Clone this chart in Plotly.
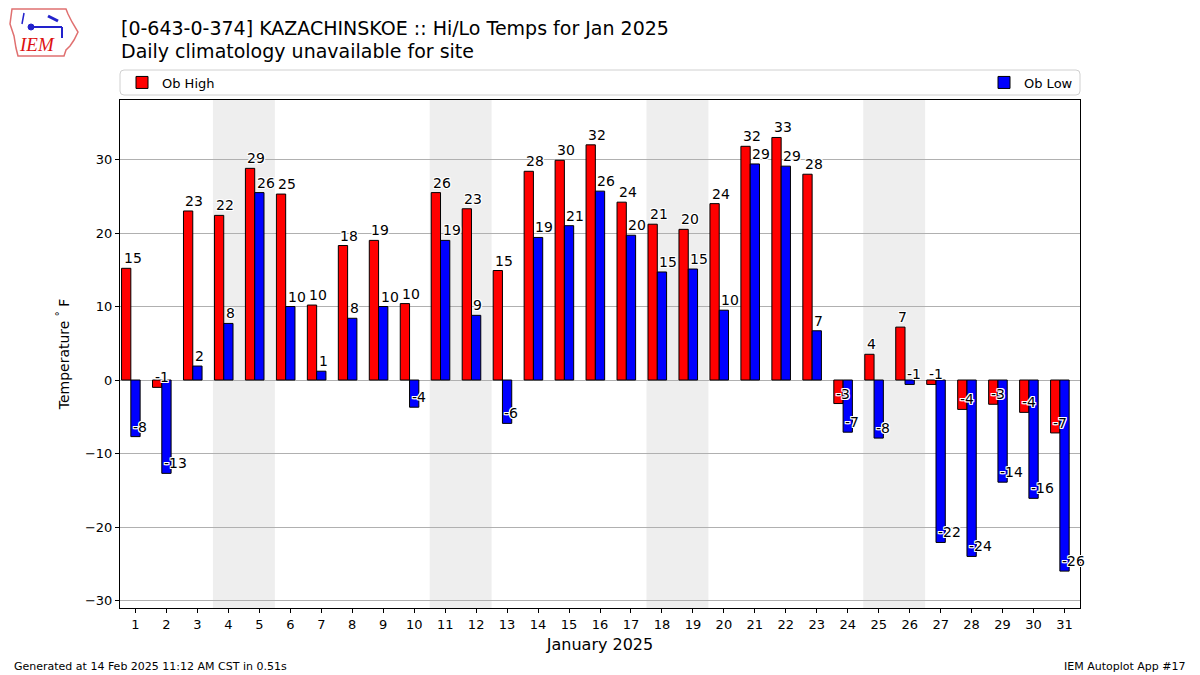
import plotly.graph_objects as go

# ---------------- data ----------------
days = list(range(1, 32))
ob_high = [15.2, -1.0, 23.0, 22.4, 28.8, 25.3, 10.2, 18.3, 19.0, 10.4,
           25.5, 23.3, 14.9, 28.4, 29.9, 32.0, 24.2, 21.2, 20.5, 24.0,
           31.8, 33.0, 28.0, -3.2, 3.5, 7.2, -0.6, -4.0, -3.3, -4.4, -7.2]
ob_low = [-7.7, -12.7, 1.9, 7.7, 25.5, 10.0, 1.2, 8.4, 10.0, -3.7,
          19.0, 8.8, -5.9, 19.4, 21.0, 25.7, 19.7, 14.7, 15.1, 9.5,
          29.4, 29.1, 6.7, -7.1, -7.9, -0.6, -22.1, -24.0, -13.9, -16.1, -26.0]
weekend_starts = [4, 11, 18, 25]   # Saturday of each weekend
y_ticks = [-30, -20, -10, 0, 10, 20, 30]

title_line1 = "[0-643-0-374] KAZACHINSKOE :: Hi/Lo Temps for Jan 2025"
title_line2 = "Daily climatology unavailable for site"
footer_left = "Generated at 14 Feb 2025 11:12 AM CST in 0.51s"
footer_right = "IEM Autoplot App #17"

FONT = "DejaVu Sans"
W, H = 1200, 675
L, R, T, B = 120, 1080, 100, 608


def px(x):
    return (x - L) / (R - L)


def py(y):
    return (B - y) / (B - T)


fig = go.Figure()
fig.add_trace(go.Bar(x=days, y=ob_high, name="Ob High", offset=-0.45, width=0.3,
                     marker=dict(color="#ff0000", line=dict(color="black", width=1)),
                     legend="legend"))
fig.add_trace(go.Bar(x=days, y=ob_low, name="Ob Low", offset=-0.15, width=0.3,
                     marker=dict(color="#0000ff", line=dict(color="black", width=1)),
                     legend="legend2"))

shapes = []
for d in weekend_starts:
    shapes.append(dict(type="rect", xref="x", yref="paper", x0=d - 0.5, x1=d + 1.5,
                       y0=0, y1=1, fillcolor="#eeeeee", line=dict(width=0), layer="below"))

# rounded legend frame
x0, x1, y0, y1 = px(120), px(1080), py(95), py(70)
rx, ry = 4 / (R - L), 4 / (B - T)
path = (f"M{x0+rx},{y0} L{x1-rx},{y0} Q{x1},{y0} {x1},{y0+ry} L{x1},{y1-ry} "
        f"Q{x1},{y1} {x1-rx},{y1} L{x0+rx},{y1} Q{x0},{y1} {x0},{y1-ry} "
        f"L{x0},{y0+ry} Q{x0},{y0} {x0+rx},{y0} Z")
shapes.append(dict(type="path", xref="paper", yref="paper", path=path,
                   line=dict(color="#d0d0d0", width=1), fillcolor="rgba(255,255,255,0.8)"))

# simple IEM logo outline (Iowa shape)
logo_pts = [(12, 9), (66, 9), (68, 14), (72, 22), (78, 32), (74, 40), (70, 46),
            (66, 50), (64, 56), (18, 56), (16, 48), (14, 36), (10, 24), (12, 9)]
lp = "M" + " L".join(f"{px(a)},{py(b)}" for a, b in logo_pts) + " Z"
shapes.append(dict(type="path", xref="paper", yref="paper", path=lp,
                   line=dict(color="#e07070", width=1.5)))
shapes.append(dict(type="line", xref="paper", yref="paper", x0=px(30), x1=px(62),
                   y0=py(27), y1=py(27), line=dict(color="#2222cc", width=2)))
shapes.append(dict(type="circle", xref="paper", yref="paper", x0=px(28), x1=px(34),
                   y0=py(24), y1=py(30), fillcolor="#2222cc", line=dict(color="#2222cc", width=1)))
shapes.append(dict(type="line", xref="paper", yref="paper", x0=px(48), x1=px(58),
                   y0=py(16), y1=py(21), line=dict(color="#2222cc", width=3)))
shapes.append(dict(type="line", xref="paper", yref="paper", x0=px(24), x1=px(22),
                   y0=py(13), y1=py(24), line=dict(color="#2222cc", width=1.5)))
shapes.append(dict(type="line", xref="paper", yref="paper", x0=px(62), x1=px(62),
                   y0=py(27), y1=py(38), line=dict(color="#2222cc", width=2)))

outline = ("-1px -1px 0 #fff, 1px -1px 0 #fff, -1px 1px 0 #fff, 1px 1px 0 #fff, "
           "0 -1px 0 #fff, 0 1px 0 #fff, -1px 0 0 #fff, 1px 0 0 #fff")
annotations = []
for d, v in zip(days, ob_high):
    annotations.append(dict(x=d - 0.45, y=v, xref="x", yref="y", text=f"{v:.0f}",
                            showarrow=False, xanchor="left", yanchor="bottom",
                            font=dict(family=FONT, size=14, color="black", shadow=outline)))
for d, v in zip(days, ob_low):
    annotations.append(dict(x=d - 0.15, y=v, xref="x", yref="y", text=f"{v:.0f}",
                            showarrow=False, xanchor="left", yanchor="bottom",
                            font=dict(family=FONT, size=14, color="black", shadow=outline)))

annotations += [
    dict(text=title_line1, x=px(119), y=py(27.5), xref="paper", yref="paper",
         xanchor="left", yanchor="middle", showarrow=False,
         font=dict(family=FONT, size=19, color="black")),
    dict(text=title_line2, x=px(119), y=py(51), xref="paper", yref="paper",
         xanchor="left", yanchor="middle", showarrow=False,
         font=dict(family=FONT, size=19, color="black")),
    dict(text=footer_left, x=px(12), y=py(666), xref="paper", yref="paper",
         xanchor="left", yanchor="middle", showarrow=False,
         font=dict(family=FONT, size=11, color="black")),
    dict(text=footer_right, x=px(1188), y=py(666), xref="paper", yref="paper",
         xanchor="right", yanchor="middle", showarrow=False,
         font=dict(family=FONT, size=11, color="black")),
    dict(text="IEM", x=px(37), y=py(45), xref="paper", yref="paper",
         xanchor="center", yanchor="middle", showarrow=False,
         font=dict(family="Liberation Serif", size=19, color="#dd1111", style="italic")),
]

fig.update_layout(
    width=W, height=H,
    margin=dict(l=L, r=W - R, t=T, b=H - B, autoexpand=False),
    paper_bgcolor="white", plot_bgcolor="white",
    barmode="overlay",
    font=dict(family=FONT, size=13, color="black"),
    shapes=shapes, annotations=annotations,
    showlegend=True,
    legend=dict(x=px(122), y=py(82.5), xanchor="left", yanchor="middle",
                orientation="h", bgcolor="rgba(0,0,0,0)",
                font=dict(family=FONT, size=13)),
    legend2=dict(x=px(1078), y=py(82.5), xanchor="right", yanchor="middle",
                 orientation="h", bgcolor="rgba(0,0,0,0)",
                 font=dict(family=FONT, size=13)),
    xaxis=dict(range=[0.5, 31.5], tickmode="array", tickvals=days,
               ticktext=[str(d) for d in days], ticks="outside", ticklen=4,
               tickcolor="black", showgrid=False, zeroline=False,
               showline=True, linecolor="black", linewidth=1, mirror=True,
               tickfont=dict(family=FONT, size=13),
               title=dict(text="January 2025", font=dict(family=FONT, size=16), standoff=8)),
    yaxis=dict(range=[-31.02, 38.1], tickmode="array", tickvals=y_ticks,
               ticks="outside", ticklen=4, tickcolor="black",
               showgrid=True, gridcolor="#b0b0b0", gridwidth=1,
               zeroline=True, zerolinecolor="#b0b0b0", zerolinewidth=1,
               showline=True, linecolor="black", linewidth=1, mirror=True,
               tickfont=dict(family=FONT, size=13),
               title=dict(text="Temperature <sup>°</sup> F", font=dict(family=FONT, size=14),
                          standoff=12)),
)

fig.write_html("out.html")
